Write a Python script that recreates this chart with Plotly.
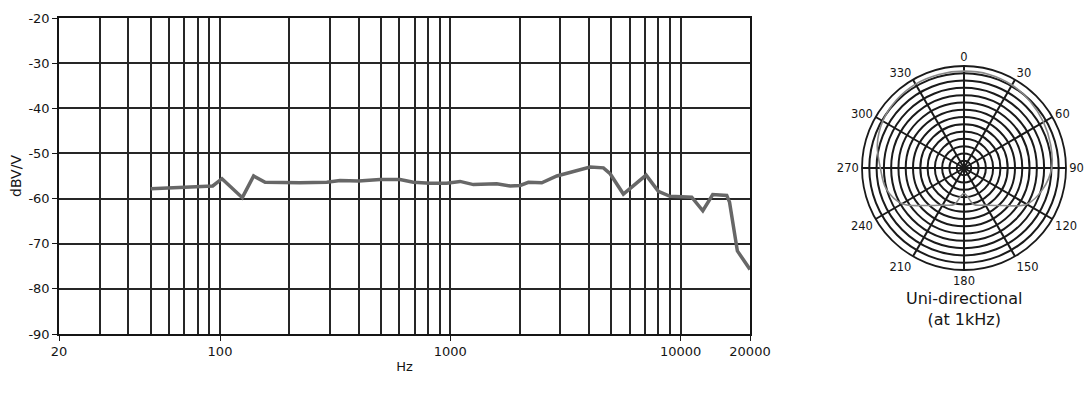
import plotly.graph_objects as go

# Frequency response data
freq_hz = [50, 93, 102, 125, 140, 157, 222, 291, 332, 400, 495, 605, 691, 817, 964,
           1102, 1259, 1590, 1816, 2010, 2183, 2495, 2900, 4045, 4620, 4940, 5640,
           7080, 8000, 8990, 11170, 12480, 13780, 15850, 16300, 17630, 20000]
level_dbv = [-57.8, -57.2, -55.6, -59.8, -55.0, -56.4, -56.5, -56.4, -56.0, -56.1,
             -55.8, -55.8, -56.4, -56.6, -56.6, -56.2, -56.9, -56.7, -57.2, -57.1,
             -56.4, -56.5, -55.0, -53.0, -53.2, -54.5, -59.0, -54.8, -58.4, -59.5,
             -59.7, -62.7, -59.1, -59.3, -60.8, -71.6, -75.7]

x_tick_vals = [20, 100, 1000, 10000, 20000]
x_tick_text = ["20", "100", "1000", "10000", "20000"]
x_minor_grid = [30, 40, 50, 60, 70, 80, 90, 100, 200, 300, 400, 500, 600, 700, 800, 900,
                1000, 2000, 3000, 4000, 5000, 6000, 7000, 8000, 9000, 10000]
y_tick_vals = [-20, -30, -40, -50, -60, -70, -80, -90]
y_tick_text = ["-20", "-30", "-40", "-50", "-60", "-70", "-80", "-90"]

# Polar pattern (relative radius) at 1 kHz
pattern_deg = [0, 15, 30, 45, 60, 75, 90, 105, 120, 135, 150, 165, 180,
               195, 210, 225, 240, 255, 270, 285, 300, 315, 330, 345, 360]
pattern_r = [0.95, 0.95, 0.94, 0.92, 0.90, 0.88, 0.86, 0.80, 0.71, 0.52, 0.42, 0.37, 0.25,
             0.37, 0.42, 0.52, 0.70, 0.79, 0.82, 0.88, 0.92, 0.94, 0.95, 0.95, 0.95]
angle_ticks = [0, 30, 60, 90, 120, 150, 180, 210, 240, 270, 300, 330]
ring_vals = [i / 14 for i in range(1, 15)]

W, H = 1091, 393
INK = "#151515"
FONT = "DejaVu Sans, Verdana, sans-serif"

fig = go.Figure()
fig.add_trace(go.Scatter(x=freq_hz, y=level_dbv, mode="lines",
                         line=dict(color="#676767", width=3.5),
                         showlegend=False, hoverinfo="x+y"))
fig.add_trace(go.Scatterpolar(r=pattern_r, theta=pattern_deg, mode="lines",
                              line=dict(color="#8a8a8a", width=1.6, shape="spline"),
                              showlegend=False, subplot="polar"))

fig.update_layout(
    width=W, height=H,
    margin=dict(l=0, r=0, t=0, b=0, autoexpand=False),
    paper_bgcolor="white", plot_bgcolor="white",
    font=dict(family=FONT, color=INK),
    xaxis=dict(
        type="log", domain=[59 / W, 750 / W], automargin=False,
        range=[1.30103, 4.30103],
        tickmode="array", tickvals=x_tick_vals, ticktext=x_tick_text,
        ticks="outside", ticklen=5, tickcolor=INK, tickwidth=1,
        tickfont=dict(size=13, color=INK),
        showgrid=False, zeroline=False,
        showline=True, linecolor=INK, linewidth=1.5, mirror=True,
        minor=dict(tickmode="array", tickvals=x_minor_grid, showgrid=True,
                   gridcolor="#262626", gridwidth=1.6, ticks=""),
        title=dict(text="Hz", font=dict(size=13, color=INK), standoff=4),
    ),
    yaxis=dict(
        domain=[1 - 334 / H, 1 - 18 / H], automargin=False,
        range=[-90, -20],
        tickmode="array", tickvals=y_tick_vals, ticktext=y_tick_text,
        ticks="outside", ticklen=5, tickcolor=INK, tickwidth=1,
        tickfont=dict(size=13, color=INK),
        showgrid=True, gridcolor="#262626", gridwidth=1.6, zeroline=False,
        showline=True, linecolor=INK, linewidth=1.5, mirror=True,
        title=dict(text="dBV/V", font=dict(size=14, color=INK), standoff=4),
    ),
    polar=dict(
        domain=dict(x=[862 / W, 1066 / W], y=[1 - 270 / H, 1 - 66 / H]),
        bgcolor="white",
        radialaxis=dict(range=[0, 1], tickmode="array", tickvals=ring_vals,
                        showticklabels=False, ticks="", showline=False,
                        gridcolor="#1a1a1a", gridwidth=1.5),
        angularaxis=dict(rotation=90, direction="clockwise",
                         tickmode="array", tickvals=angle_ticks,
                         ticktext=[str(a) for a in angle_ticks],
                         tickfont=dict(size=11.5, color=INK), ticks="",
                         showline=True, linecolor="#1a1a1a", linewidth=1.8,
                         gridcolor="#1a1a1a", gridwidth=1.5),
    ),
    annotations=[dict(text="Uni-directional<br>(at 1kHz)", x=964 / W, y=1 - 287 / H,
                      xref="paper", yref="paper", xanchor="center", yanchor="top",
                      showarrow=False, font=dict(size=16, color=INK))],
)

fig.write_html("out.html")
